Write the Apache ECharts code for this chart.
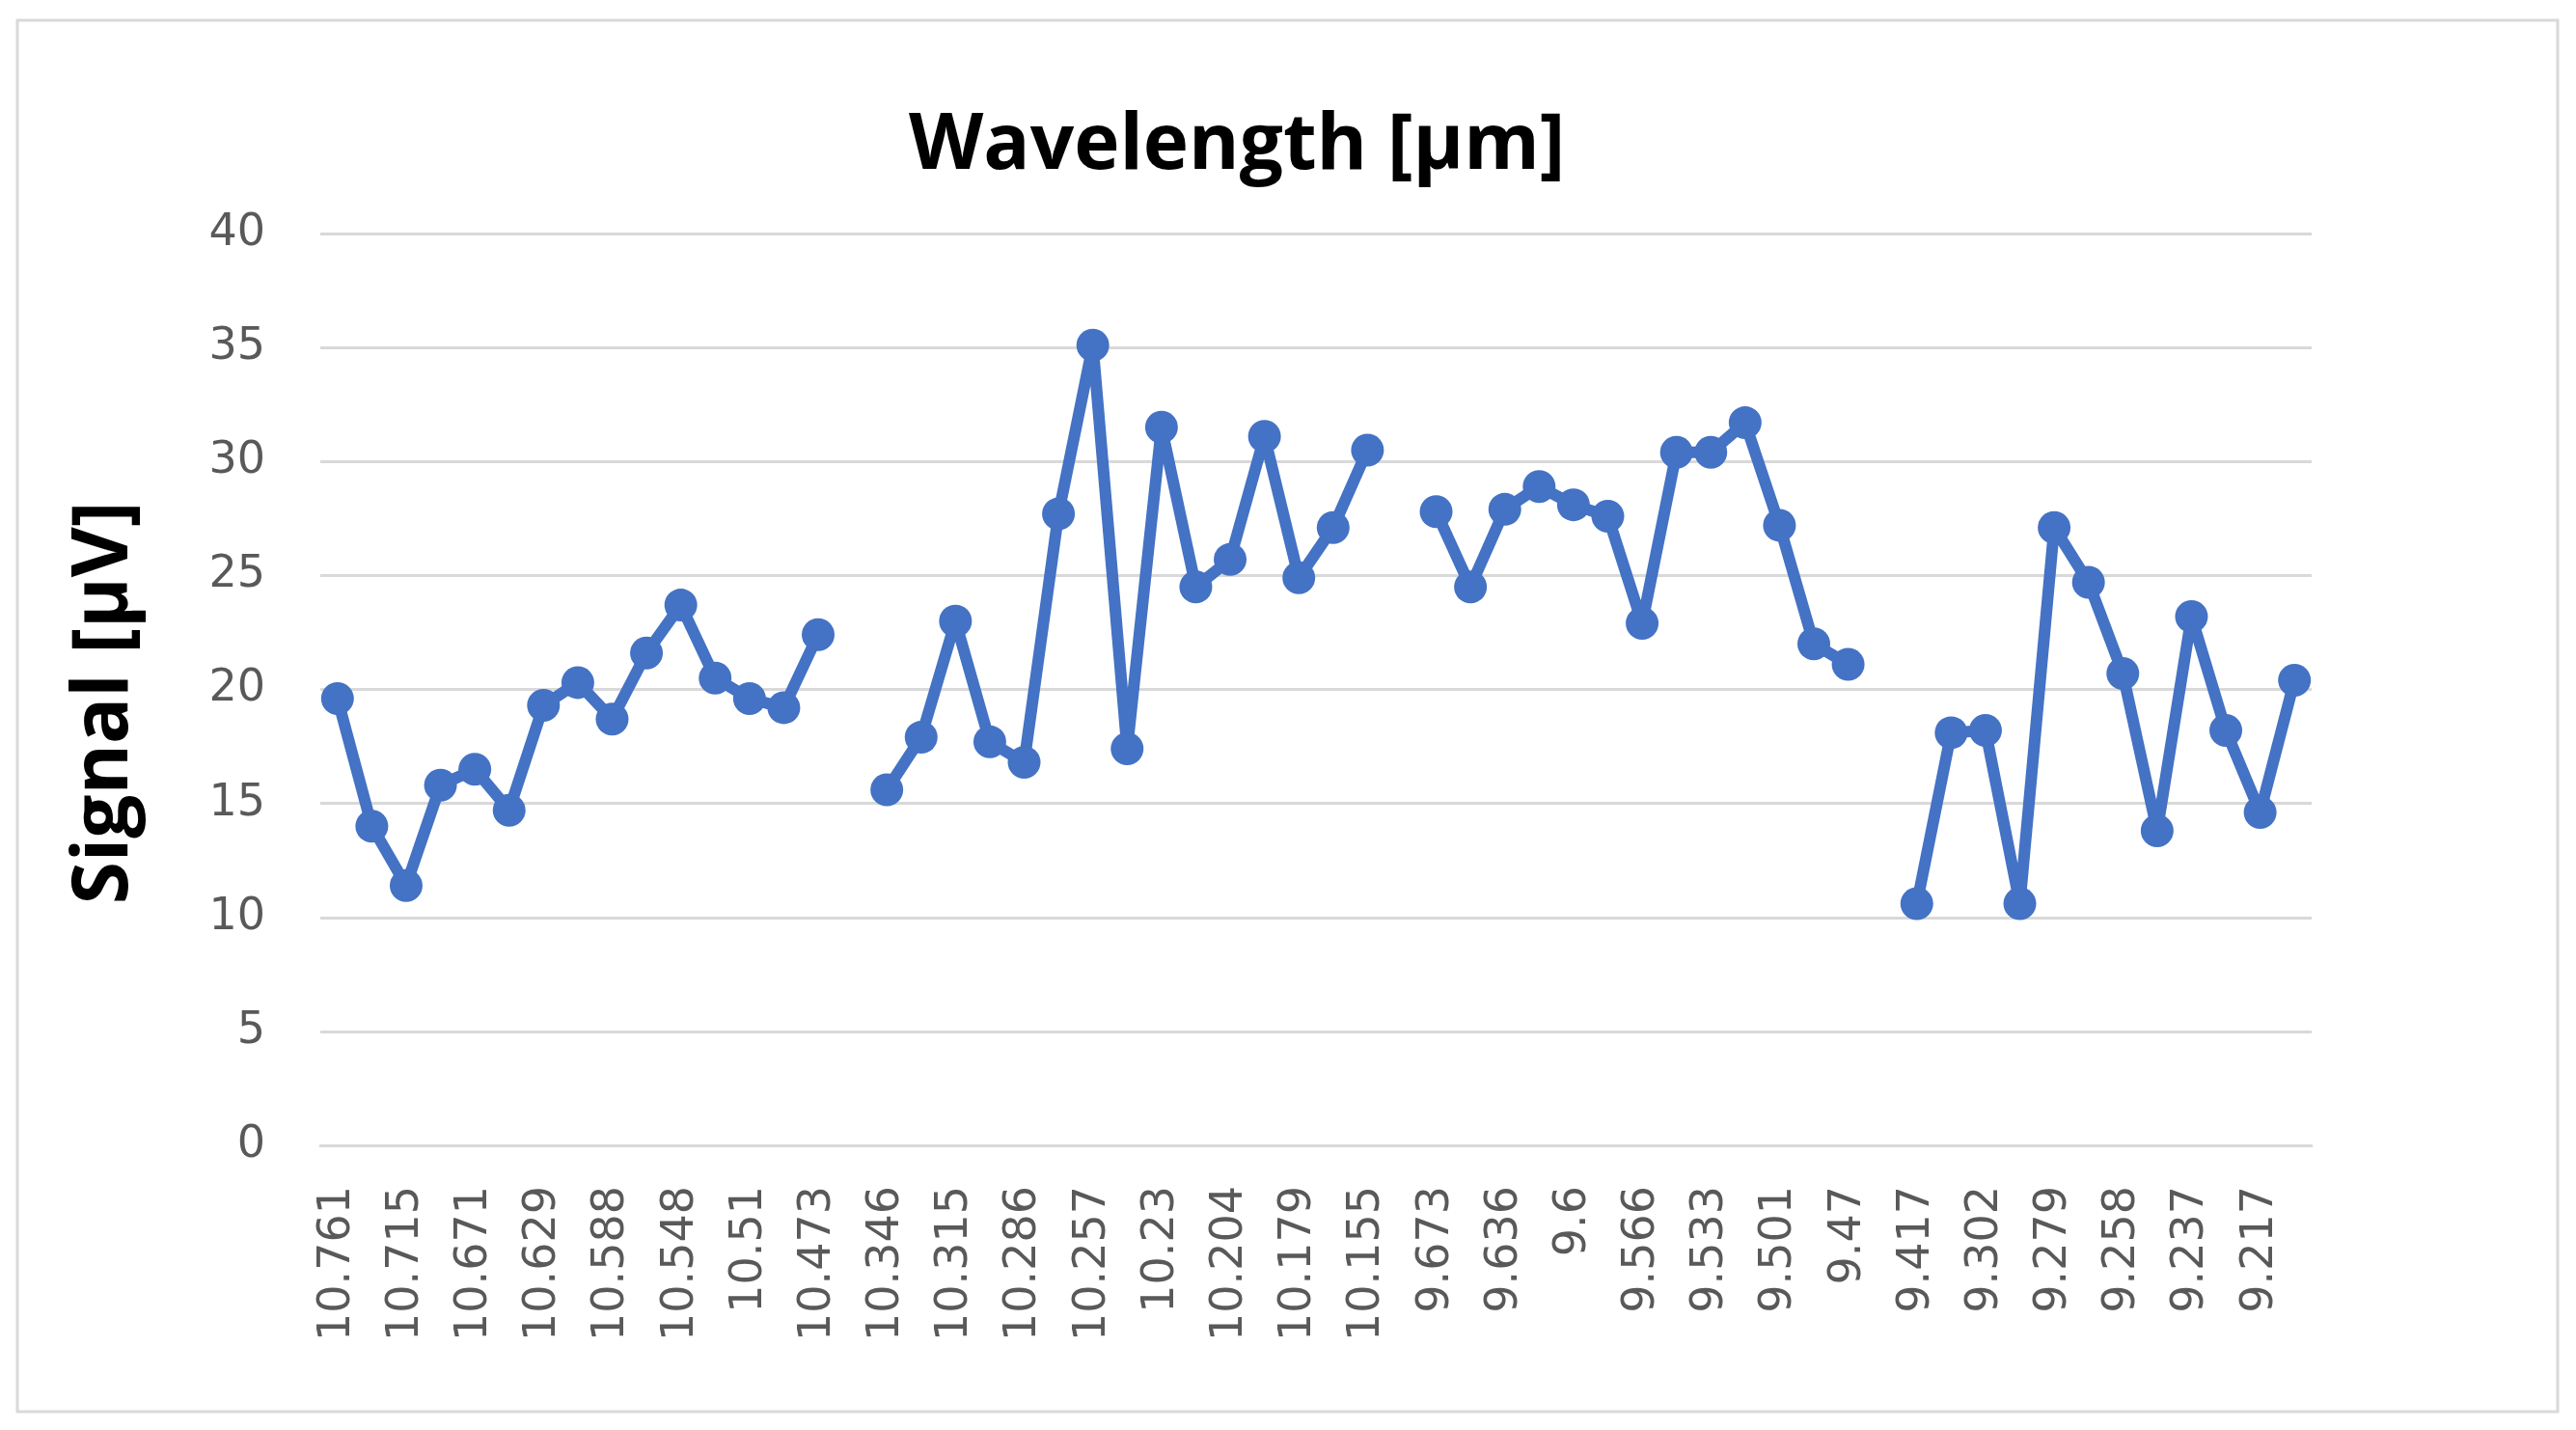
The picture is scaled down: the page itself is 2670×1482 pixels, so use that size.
<!DOCTYPE html>
<html>
<head>
<meta charset="utf-8">
<script src="https://cdn.jsdelivr.net/npm/echarts@6/dist/echarts.min.js"></script>
<style>
html,body{margin:0;padding:0;background:#fff;}
#chart{width:2670px;height:1482px;}
</style>
</head>
<body>
<div id="chart"></div>
<script>
// Wavelength labels (µm) per segment
const wl1 = ['10.761','10.738','10.715','10.693','10.671','10.65','10.629','10.608','10.588','10.568','10.548','10.529','10.51','10.491','10.473'];
const wl2 = ['10.346','10.33','10.315','10.3','10.286','10.271','10.257','10.243','10.23','10.217','10.204','10.191','10.179','10.167','10.155'];
const wl3 = ['9.673','9.654','9.636','9.618','9.6','9.583','9.566','9.549','9.533','9.517','9.501','9.485','9.47'];
const wl4 = ['9.417','9.36','9.302','9.29','9.279','9.268','9.258','9.247','9.237','9.227','9.217','9.207'];

// Signal values (µV) per segment
const sig1 = [19.6, 14.0, 11.4, 15.8, 16.5, 14.7, 19.3, 20.3, 18.7, 21.6, 23.7, 20.5, 19.6, 19.2, 22.4];
const sig2 = [15.6, 17.9, 23.0, 17.7, 16.8, 27.7, 35.1, 17.4, 31.5, 24.5, 25.7, 31.1, 24.9, 27.1, 30.5];
const sig3 = [27.8, 24.5, 27.9, 28.9, 28.1, 27.6, 22.9, 30.4, 30.4, 31.7, 27.2, 22.0, 21.1];
const sig4 = [10.6, 18.1, 18.2, 10.6, 27.1, 24.7, 20.7, 13.8, 23.2, 18.2, 14.6, 20.4];

const yTicks = [0, 5, 10, 15, 20, 25, 30, 35, 40];

// build category axis and series with empty slots between segments
const categories = [].concat(wl1, [''], wl2, [''], wl3, [''], wl4);
const values = [].concat(sig1, [null], sig2, [null], sig3, [null], sig4);

const chart = echarts.init(document.getElementById('chart'), null, {renderer: 'canvas'});
chart.setOption({
  backgroundColor: '#ffffff',
  animation: false,
  title: {
    text: 'Wavelength [µm]',
    left: 937,
    top: 107,
    textStyle: {fontFamily: 'Open Sans', fontWeight: 'bold', fontSize: 80, color: '#000000'}
  },
  graphic: [{
    type: 'rect',
    shape: {x: 18, y: 21, width: 2633, height: 1442},
    style: {fill: 'none', stroke: '#d9d9d9', lineWidth: 3},
    silent: true
  }],
  grid: {left: 332, right: 274, top: 242, bottom: 295, containLabel: false},
  xAxis: {
    type: 'category',
    data: categories,
    boundaryGap: true,
    axisLine: {show: true, lineStyle: {color: '#d9d9d9', width: 3}},
    axisTick: {show: false},
    axisLabel: {
      interval: 1,
      rotate: 90,
      margin: 42,
      fontFamily: 'DejaVu Sans',
      fontSize: 46,
      color: '#595959'
    },
    splitLine: {show: false}
  },
  yAxis: {
    type: 'value',
    min: yTicks[0],
    max: yTicks[yTicks.length - 1],
    interval: 5,
    name: 'Signal [µV]',
    nameLocation: 'middle',
    nameRotate: 90,
    nameGap: 183,
    nameTextStyle: {fontFamily: 'Open Sans', fontWeight: 'bold', fontSize: 80, color: '#000000', padding: [0, 28, 0, 0]},
    axisLine: {show: false},
    axisTick: {show: false},
    axisLabel: {
      margin: 57,
      fontFamily: 'DejaVu Sans',
      fontSize: 46,
      color: '#595959'
    },
    splitLine: {show: true, lineStyle: {color: '#d9d9d9', width: 3}}
  },
  series: [{
    type: 'line',
    data: values,
    connectNulls: false,
    symbol: 'circle',
    symbolSize: 34,
    showSymbol: true,
    showAllSymbol: true,
    lineStyle: {color: '#4472C4', width: 12},
    itemStyle: {color: '#4472C4'},
    z: 3
  }]
});
</script>
</body>
</html>
